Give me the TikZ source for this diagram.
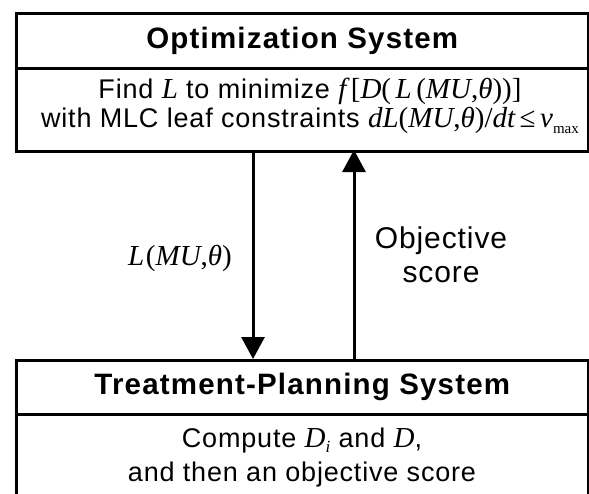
\documentclass[tikz,border=0pt]{standalone}
\usepackage{fontspec}
\setmainfont{Liberation Sans}
\newfontfamily\tms{Liberation Serif}
\usetikzlibrary{arrows.meta}
\newcommand\mi[1]{{\tms\itshape\fontsize{29}{29}\selectfont #1}}
\newcommand\mr[1]{{\tms\fontsize{29}{29}\selectfont #1}}
\tikzset{
  boxpart/.style={draw, line width=2.6pt, anchor=north west, inner sep=0pt, minimum width=572pt},
  titletext/.style={font=\fontsize{29.5}{34}\selectfont\bfseries\addfontfeature{LetterSpace=4}},
  bodytext/.style={font=\fontsize{27}{29}\selectfont\addfontfeature{LetterSpace=3}, align=center, inner sep=0pt},
  flow/.style={line width=3pt, -{Triangle[width=23pt,length=22pt]}},
}
\begin{document}
\begin{tikzpicture}[x=1pt,y=-1pt]
\useasboundingbox (0,0) rectangle (589,493);
% top system
\node[boxpart, minimum height=55pt, titletext] (otitle) at (15,12) {\raisebox{-3pt}{Optimization System}};
\node[boxpart, minimum height=83pt] (obody) at (15,67) {};
\node[bodytext] (obodytext) at (310,105.5)
  {Find \mi{L} to minimize \mi{f}\,\mr{[}\mi{D}\mr{(}\,\mi{L}\,\mr{(}\mi{MU}\mr{,}\mi{θ}\mr{))]}\\
   with MLC leaf constraints \mi{dL}\mr{(}\mi{MU}\mr{,}\mi{θ}\mr{)}\mr{/}\mi{dt}\,\mr{≤}\,\mi{v}\raisebox{-6pt}{{\tms\fontsize{15}{15}\selectfont max}}};
% bottom system
\node[boxpart, minimum height=54pt, titletext] (ttitle) at (15,359) {\raisebox{-2pt}{Treatment-Planning System}};
\node[boxpart, minimum height=130pt] (tbody) at (15,413) {};
\node[bodytext, font=\fontsize{27}{34}\selectfont\addfontfeature{LetterSpace=3}] (tbodytext) at (302,458)
  {Compute \mi{D}\raisebox{-5pt}{{\tms\itshape\fontsize{17}{17}\selectfont i}} and \mi{D},\\ and then an objective score};
% connectors
\coordinate (downtop) at (253,150);
\coordinate (uptop) at (354,150);
\draw[flow] (downtop) -- (downtop |- ttitle.north);
\draw[flow] (uptop |- ttitle.north) -- (uptop);
% labels
\node[inner sep=0pt] (lab1) at (180,258) {\mi{L}\,\mr{(}\mi{MU}\mr{,}\mi{θ}\mr{)}};
\node[inner sep=0pt, align=center, font=\fontsize{30}{34}\selectfont\addfontfeature{LetterSpace=3}] (lab2) at (441,255) {Objective\\score};
\end{tikzpicture}
\end{document}
